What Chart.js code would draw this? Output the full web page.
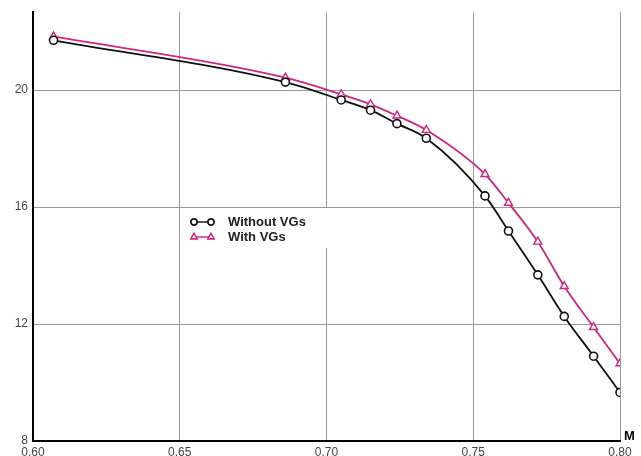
<!DOCTYPE html>
<html>
<head>
<meta charset="utf-8">
<script src="https://cdn.jsdelivr.net/npm/chart.js@4"></script>
<style>
  html, body { margin: 0; padding: 0; background: #fff; }
  #wrap { width: 641px; height: 456px; position: relative; }
</style>
</head>
<body>
<div id="wrap"><canvas id="c"></canvas></div>
<script>
// Mach numbers (both curves share them)
const mach = [0.607, 0.686, 0.705, 0.715, 0.724, 0.734, 0.754, 0.762, 0.772, 0.781, 0.791, 0.800];
const withoutVGs = [21.70, 20.27, 19.66, 19.31, 18.85, 18.35, 16.38, 15.18, 13.68, 12.26, 10.90, 9.66];
const withVGs = [21.83, 20.42, 19.85, 19.51, 19.12, 18.63, 17.12, 16.14, 14.81, 13.29, 11.89, 10.65];
const xTicks = [0.60, 0.65, 0.70, 0.75, 0.80];
const yTicks = [8, 12, 16, 20];
const seriesNames = ['Without VGs', 'With VGs'];

const BLACK = '#111';
const MAGENTA = '#d0267f';

const pts = ys => mach.map((m, i) => ({ x: m, y: ys[i] }));

// legend drawn inside the plot with a white backing, plus the "M" axis name
const extras = {
  id: 'extras',
  beforeDatasetsDraw(chart) {
    const ctx = chart.ctx;
    ctx.save();
    ctx.fillStyle = '#fff';
    ctx.fillRect(186, 208, 150, 40);
    const rows = [
      { y: 222, color: BLACK, style: 'circle' },
      { y: 237, color: MAGENTA, style: 'triangle' },
    ];
    rows.forEach((r, i) => {
      ctx.strokeStyle = r.color;
      ctx.lineWidth = 1.4;
      ctx.beginPath();
      ctx.moveTo(194, r.y);
      ctx.lineTo(211, r.y);
      ctx.stroke();
      [194, 211].forEach(px => {
        Chart.helpers.drawPoint(ctx, {
          pointStyle: r.style, radius: r.style === 'circle' ? 3 : 3.5,
          borderWidth: 1.2
        }, px, r.y);
        ctx.fillStyle = '#fff';
        ctx.fill();
        ctx.stroke();
      });
      ctx.fillStyle = '#222';
      ctx.font = 'bold 13px "Liberation Sans", Arial, sans-serif';
      ctx.textAlign = 'left';
      ctx.textBaseline = 'middle';
      ctx.fillText(seriesNames[i], 228, r.y + 0.5);
    });
    ctx.restore();
  },
  afterDraw(chart) {
    const { ctx, chartArea } = chart;
    ctx.save();
    ctx.fillStyle = '#000';
    ctx.font = 'bold 13px "Liberation Sans", Arial, sans-serif';
    ctx.textAlign = 'left';
    ctx.textBaseline = 'middle';
    ctx.fillText('M', chartArea.right + 4, chartArea.bottom - 5);
    ctx.restore();
  }
};

new Chart(document.getElementById('c'), {
  type: 'line',
  data: {
    datasets: [
      {
        label: seriesNames[0],
        data: pts(withoutVGs),
        borderColor: BLACK,
        borderWidth: 1.8,
        pointStyle: 'circle',
        pointRadius: 4,
        pointBorderWidth: 1.6,
        pointBackgroundColor: '#fff',
        pointBorderColor: BLACK,
        cubicInterpolationMode: 'monotone',
      },
      {
        label: seriesNames[1],
        data: pts(withVGs),
        borderColor: MAGENTA,
        borderWidth: 1.8,
        pointStyle: 'triangle',
        pointRadius: 4.6,
        pointBorderWidth: 1.4,
        pointBackgroundColor: '#fff',
        pointBorderColor: MAGENTA,
        cubicInterpolationMode: 'monotone',
      },
    ],
  },
  options: {
    responsive: true,
    maintainAspectRatio: false,
    animation: false,
    layout: { padding: { top: 9, right: 21, left: 0, bottom: 0 } },
    plugins: { legend: { display: false }, tooltip: { enabled: false } },
    scales: {
      x: {
        type: 'linear',
        min: 0.60,
        max: 0.80,
        afterBuildTicks: s => { s.ticks = xTicks.map(v => ({ value: v })); },
        afterFit: s => { s.height = 15; },
        grid: { color: '#999', lineWidth: 1, drawTicks: false },
        border: { color: '#000', width: 2 },
        ticks: {
          padding: 4,
          color: '#444',
          font: { family: '"Liberation Sans", Arial, sans-serif', size: 12 },
          maxRotation: 0,
          callback: v => v.toFixed(2),
        },
      },
      y: {
        min: 8,
        max: 22.66,
        afterBuildTicks: s => { s.ticks = yTicks.map(v => ({ value: v })); },
        afterFit: s => { s.width = 33; },
        grid: { color: '#999', lineWidth: 1, drawTicks: false },
        border: { color: '#000', width: 2 },
        ticks: {
          padding: 5,
          color: '#444',
          font: { family: '"Liberation Sans", Arial, sans-serif', size: 12 },
        },
      },
    },
  },
  plugins: [extras],
});
</script>
</body>
</html>
